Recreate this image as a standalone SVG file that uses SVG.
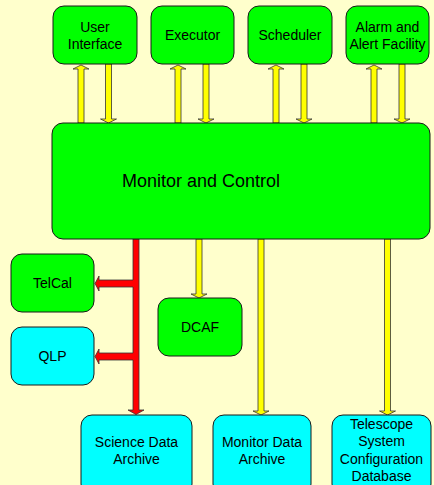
<svg xmlns="http://www.w3.org/2000/svg" width="434" height="485" viewBox="0 0 434 485">
  <style>
    .bg { fill: #FFFFCC; }
    .box { stroke: #1a1a1a; stroke-width: 1; }
    .green { fill: #00FF00; }
    .cyan { fill: #00FFFF; }
    .lbl { font-family: "Liberation Sans", Arial, sans-serif; font-size: 14px; fill: #000; text-anchor: middle; }
    .big { font-size: 18px; }
    .flow { fill: #FFFF00; stroke: #333; stroke-width: 0.8; stroke-linejoin: miter; }
    .data { fill: #FF0000; stroke: #333; stroke-width: 0.8; stroke-linejoin: miter; }
  </style>
  <rect class="bg" x="0" y="0" width="434" height="485"/>

  <!-- connectors -->
  <g id="connectors">
    <!-- up arrows into the top components -->
    <path class="flow" d="M78,123 L84,123 L84,69 L89,69 L81,65 L73,69 L78,69 Z"/>
    <path class="flow" d="M175,123 L181,123 L181,69 L186,69 L178,65 L170,69 L175,69 Z"/>
    <path class="flow" d="M273,123 L279,123 L279,69 L284,69 L276,65 L268,69 L273,69 Z"/>
    <path class="flow" d="M371,123 L377,123 L377,69 L382,69 L374,65 L366,69 L371,69 Z"/>
    <!-- down arrows into Monitor and Control -->
    <path class="flow" d="M105.5,64 L111.5,64 L111.5,119 L116.5,119 L108.5,123 L100.5,119 L105.5,119 Z"/>
    <path class="flow" d="M203,64 L209,64 L209,119 L214,119 L206,123 L198,119 L203,119 Z"/>
    <path class="flow" d="M301,64 L307,64 L307,119 L312,119 L304,123 L296,119 L301,119 Z"/>
    <path class="flow" d="M399,64 L405,64 L405,119 L410,119 L402,123 L394,119 L399,119 Z"/>
    <!-- down arrows out of Monitor and Control -->
    <path class="flow" d="M196,239 L202,239 L202,294 L207,294 L199,298 L191,294 L196,294 Z"/>
    <path class="flow" d="M258,239 L264,239 L264,411 L269,411 L261,415 L253,411 L258,411 Z"/>
    <path class="flow" d="M384.5,239 L390.5,239 L390.5,411 L395.5,411 L387.5,415 L379.5,411 L384.5,411 Z"/>
    <!-- science data bus with branches -->
    <path class="data" d="M133,239 L139,239 L139,410 L144,410 L136,414.5 L128,410 L133,410 L133,360 L99,360 L99,364 L95,356.5 L99,349 L99,353 L133,353 L133,287 L99,287 L99,291 L95,283.5 L99,276 L99,280 L133,280 Z"/>
  </g>

  <g id="user-interface">
    <rect class="box green" x="53" y="6" width="84" height="58" rx="11"/>
    <text class="lbl" x="95" y="32">User</text>
    <text class="lbl" x="95" y="49">Interface</text>
  </g>
  <g id="executor">
    <rect class="box green" x="151" y="6" width="83" height="58" rx="11"/>
    <text class="lbl" x="192.5" y="40">Executor</text>
  </g>
  <g id="scheduler">
    <rect class="box green" x="248" y="6" width="84" height="58" rx="11"/>
    <text class="lbl" x="290" y="40">Scheduler</text>
  </g>
  <g id="alarm-facility">
    <rect class="box green" x="346" y="6" width="83" height="58" rx="11"/>
    <text class="lbl" x="387.5" y="32">Alarm and</text>
    <text class="lbl" x="387.5" y="49">Alert Facility</text>
  </g>

  <g id="monitor-control">
    <rect class="box green" x="52" y="123" width="378" height="116" rx="11"/>
    <text class="lbl big" x="201" y="187">Monitor and Control</text>
  </g>

  <g id="telcal">
    <rect class="box green" x="11" y="254" width="83" height="58" rx="11"/>
    <text class="lbl" x="52.5" y="288">TelCal</text>
  </g>
  <g id="qlp">
    <rect class="box cyan" x="11" y="327" width="83" height="58" rx="11"/>
    <text class="lbl" x="52.5" y="361">QLP</text>
  </g>
  <g id="dcaf">
    <rect class="box green" x="158" y="298" width="84" height="58" rx="11"/>
    <text class="lbl" x="200" y="332">DCAF</text>
  </g>

  <g id="science-archive">
    <rect class="box cyan" x="81" y="415" width="111" height="80" rx="11"/>
    <text class="lbl" x="136.5" y="447">Science Data</text>
    <text class="lbl" x="136.5" y="464">Archive</text>
  </g>
  <g id="monitor-archive">
    <rect class="box cyan" x="213" y="415" width="98" height="80" rx="11"/>
    <text class="lbl" x="262" y="447">Monitor Data</text>
    <text class="lbl" x="262" y="464">Archive</text>
  </g>
  <g id="tsc-database">
    <rect class="box cyan" x="332" y="415" width="99" height="80" rx="11"/>
    <text class="lbl" x="381.5" y="429">Telescope</text>
    <text class="lbl" x="381.5" y="446">System</text>
    <text class="lbl" x="381.5" y="464">Configuration</text>
    <text class="lbl" x="381.5" y="481">Database</text>
  </g>
</svg>
